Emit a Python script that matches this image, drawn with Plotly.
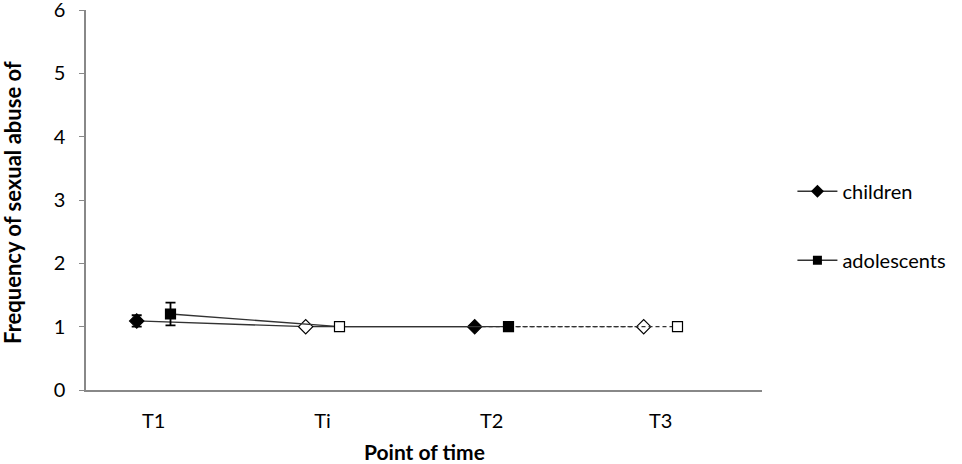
import plotly.graph_objects as go

time_points = ["T1", "Ti", "T2", "T3"]
children = [1.09, 1.0, 1.0, 1.0]
children_err = [0.09, 0, 0, 0]
adolescents = [1.2, 1.0, 1.0, 1.0]
adolescents_err = [0.18, 0, 0, 0]
filled = [True, False, True, False]

child_x = [i + 0.3 for i in range(4)]
adol_x = [i + 0.5 for i in range(4)]
label_x = [i + 0.4 for i in range(4)]

LINE = "#333333"
fig = go.Figure()

def add_series(xs, ys, errs, symbol, size, name):
    fig.add_trace(go.Scatter(x=xs[:3], y=ys[:3], mode="lines",
                             line=dict(color=LINE, width=1.3), showlegend=False, hoverinfo="skip"))
    fig.add_trace(go.Scatter(x=xs[2:], y=ys[2:], mode="lines",
                             line=dict(color=LINE, width=1.3, dash="4px,3px"), showlegend=False, hoverinfo="skip"))
    fills = ["black" if f else "white" for f in filled]
    fig.add_trace(go.Scatter(x=xs, y=ys, mode="markers",
                             marker=dict(symbol=symbol, size=size, color=fills,
                                         line=dict(color="black", width=1.2)),
                             error_y=dict(type="data", array=errs, visible=True, color="black",
                                          thickness=1.8, width=5),
                             showlegend=False, name=name))
    fig.add_trace(go.Scatter(x=[None], y=[None], mode="lines+markers", name=name,
                             legendgroup=name,
                             line=dict(color=LINE, width=1.5),
                             marker=dict(symbol=symbol, size=size - 1, color="black")))

add_series(child_x, children, children_err, "diamond", 11, "children")
add_series(adol_x, adolescents, adolescents_err, "square", 10, "adolescents")

fig.update_layout(
    width=962, height=464,
    margin=dict(l=86, r=200, t=10, b=74),
    plot_bgcolor="white", paper_bgcolor="white",
    font=dict(family="Lato, 'Open Sans', sans-serif", size=20, color="black"),
    legend=dict(x=1.045, y=0.432, xanchor="left", yanchor="middle",
                tracegroupgap=40, font=dict(size=20), itemwidth=40),
    xaxis=dict(range=[0, 4], tickvals=label_x, ticktext=time_points, automargin=False,
               showline=True, linecolor="#888888", linewidth=1.5, showgrid=False,
               zeroline=False, ticks="", ticklabelstandoff=12, ticklabeloverflow="allow"),
    yaxis=dict(range=[0, 6], dtick=1, showline=True, linecolor="#888888", linewidth=1.5,
               showgrid=False, zeroline=False, ticks="outside", ticklen=5, tickcolor="#888888",
               ticklabelstandoff=10, automargin=False, ticklabeloverflow="allow"),
    annotations=[
        dict(text="<b>Point of time</b>", xref="paper", yref="paper", x=0.5, y=-0.161,
             xanchor="center", yanchor="middle", showarrow=False, font=dict(size=21)),
        dict(text="<b>Frequency of sexual abuse of</b>", xref="paper", yref="paper",
             x=-0.108, y=0.495, xanchor="center", yanchor="middle", textangle=-90,
             showarrow=False, font=dict(size=22)),
    ],
)

fig.write_html("out.html", config={"displayModeBar": False},
               post_script="document.body.style.margin='0px';")
